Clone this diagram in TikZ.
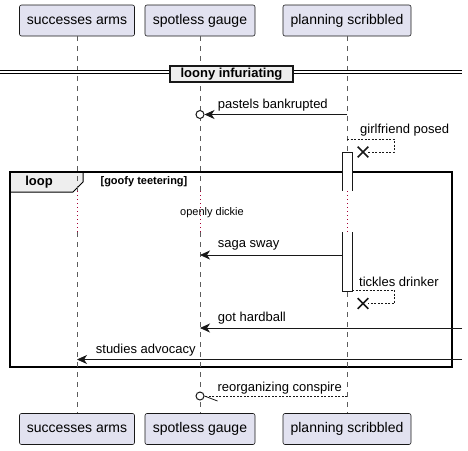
\documentclass[tikz,border=0pt]{standalone}
\usepackage{fontspec}
\setmainfont{Liberation Sans}
\usetikzlibrary{arrows.meta}
\usetikzlibrary{shapes.misc}
\usetikzlibrary{positioning}
\definecolor{partfill}{HTML}{E2E2F0}
\definecolor{boxgray}{HTML}{EEEEEE}
\definecolor{linegray}{HTML}{181818}
\definecolor{delayred}{HTML}{A80036}

\begin{document}
\begin{tikzpicture}[x=1pt, y=-1pt]
    \tikzstyle{part}=[draw=linegray, fill=partfill, rounded corners=2pt, minimum height=31pt, inner sep=0pt, line width=0.6pt, font=\fontsize{14}{16}\selectfont]
    \tikzstyle{life}=[draw=linegray!70, dash pattern=on 5pt off 5pt, line width=0.6pt]
    \tikzstyle{dly}=[draw=delayred, dash pattern=on 1pt off 3pt, line width=1pt]
    \tikzstyle{msg}=[draw=linegray, line width=0.8pt, -{Stealth[length=10pt, width=9pt, inset=3pt]}]
    \tikzstyle{selfmsg}=[draw=linegray, line width=0.6pt, dash pattern=on 2pt off 1.5pt]
    \tikzstyle{lbl}=[anchor=west, inner sep=0pt, font=\fontsize{13}{15}\selectfont]
    \tikzstyle{ring}=[circle, draw=linegray, fill=white, minimum size=8pt, inner sep=0pt, line width=1pt]
    \tikzstyle{xmark}=[cross out, draw=linegray, line width=1.6pt, minimum size=9pt, inner sep=0pt]
    \tikzstyle{actbar}=[draw=linegray, fill=white, line width=0.8pt]
    \useasboundingbox (0,0) rectangle (468,450);

    % loop frame
    \draw[fill=boxgray, line width=1pt] (10,172) -- (83,172) -- (83,182) -- (73,192) -- (10,192);
    \draw[line width=1.5pt] (10,172) rectangle (452,367);
    \node[font=\bfseries\fontsize{13}{15}\selectfont] (lp) at (39,182.5) {loop};
    \node[font=\bfseries\fontsize{11}{13}\selectfont] (gd) at (144,182) {[goofy teetering]};

    \foreach \n/\x/\w/\t in
    {sa/77/115/successes arms, sg/200/110/spotless gauge, ps/347/128/planning scribbled}
    {
      \node[part, minimum width=\w pt] (\n-t) at (\x,20.5) {\t};
      \node[part, minimum width=\w pt] (\n-b) at (\x,429) {\t};
      \coordinate (\n-d0) at (\x,191);
      \coordinate (\n-d1) at (\x,232);
      \draw[life] (\n-t) -- (\n-d0);
      \draw[dly] (\n-d0) -- (\n-d1);
      \draw[life] (\n-d1) -- (\n-b);
    }
    \node[font=\fontsize{11}{13}\selectfont] (dl) at (212,212.5) {openly dickie};

    % divider
    \draw[line width=0.9pt] (0,70.8) -- (462,70.8);
    \draw[line width=0.9pt] (0,73.6) -- (462,73.6);
    \node[draw=linegray, fill=boxgray, line width=1.5pt, minimum width=123pt, minimum height=16pt, inner sep=0pt, font=\bfseries\fontsize{13}{15}\selectfont] (dv) at (231.5,74) {loony infuriating};

    % activations
    \draw[actbar] (342,190.7) -- (342,152) -- (352,152) -- (352,190.7);
    \draw[actbar] (342,232) -- (342,291) -- (352,291) -- (352,232);

    \node[ring] (c1) at (200,114.5) {};
    \coordinate (m1) at (347,114.5);
    \draw[msg] (m1) -- (c1.east);
    \node[lbl] (l1) at (217.7,105) {pastels bankrupted};

    \coordinate (s1) at (347,139);
    \node[xmark] (x1) at (363,152) {};
    \draw[selfmsg] (s1) -- ++(47,0) |- (x1.east);
    \node[lbl] (l2) at (360,130.5) {girlfriend posed};

    \coordinate (s2) at (352,290);
    \node[xmark] (x2) at (363,303.5) {};
    \draw[selfmsg] (s2) -- ++(42,0) |- (x2.east);
    \node[lbl] (l6) at (359,281.7) {tickles drinker};

    \foreach \n/\xa/\xb/\y/\lx/\t in
    {3/342/200/255/217.7/saga sway, 4/462/200/328/217.7/got hardball, 5/462/77/359.5/95.7/studies advocacy}
    {
      \coordinate (f\n) at (\xa,\y);
      \coordinate (t\n) at (\xb,\y);
      \draw[msg] (f\n) -- (t\n);
      \node[lbl] (l\n) at (\lx,\y-9.5) {\t};
    }

    \node[ring] (c2) at (200,396) {};
    \coordinate (m7) at (347,396);
    \draw[selfmsg] (m7) -- (c2.east);
    \draw[draw=linegray, line width=0.8pt] (c2.east) -- ++(13,5);
    \node[lbl] (l7) at (217.3,388.3) {reorganizing conspire};
\end{tikzpicture}
\end{document}
